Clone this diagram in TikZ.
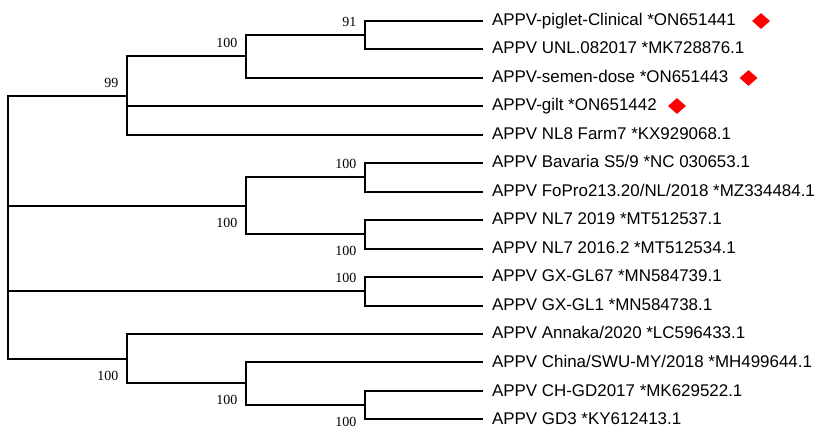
\documentclass[tikz,border=0pt]{standalone}
\usepackage{fontspec}
\setmainfont{Liberation Sans}
\newfontfamily\bootfont{Liberation Serif}
\usepackage{tikz}
\usetikzlibrary{%
	shapes.geometric,%
	positioning
}
\definecolor{marker-red}{rgb}{1.0, 0.0, 0.0}

\begin{document}
\begin{tikzpicture}[x=1bp,y=-1bp,
		branch/.style={line width=2.8bp},
		taxon/.style={anchor=west,inner xsep=9bp,inner ysep=0pt,outer sep=0pt,
			text height=12.2bp,text depth=2.2bp,font=\fontsize{17}{20}\selectfont},
		bootup/.style={anchor=base east,inner sep=0pt,xshift=-8.5bp,yshift=8bp,
			font=\bootfont\fontsize{14}{15}\selectfont},
		bootdown/.style={anchor=base east,inner sep=0pt,xshift=-8.5bp,yshift=-21.3bp,
			font=\bootfont\fontsize{14}{15}\selectfont},
		sample/.style={diamond,fill=marker-red,inner sep=0pt,minimum width=18bp,minimum height=16bp}
	]
	% Frame
	\useasboundingbox (0,0) rectangle (829,437);
	
	% Taxa
	\node[taxon] (t1) at (483,21) {APPV-piglet-Clinical *ON651441};
	\node[taxon] (t2) at (483,49) {APPV UNL.082017 *MK728876.1};
	\node[taxon] (t3) at (483,78) {APPV-semen-dose *ON651443};
	\node[taxon] (t4) at (483,106) {APPV-gilt *ON651442};
	\node[taxon] (t5) at (483,135) {APPV NL8 Farm7 *KX929068.1};
	\node[taxon] (t6) at (483,163) {APPV Bavaria S5/9 *NC 030653.1};
	\node[taxon] (t7) at (483,192) {APPV FoPro213.20/NL/2018 *MZ334484.1};
	\node[taxon] (t8) at (483,220) {APPV NL7 2019 *MT512537.1};
	\node[taxon] (t9) at (483,249) {APPV NL7 2016.2 *MT512534.1};
	\node[taxon] (t10) at (483,277) {APPV GX-GL67 *MN584739.1};
	\node[taxon] (t11) at (483,306) {APPV GX-GL1 *MN584738.1};
	\node[taxon] (t12) at (483,334) {APPV Annaka/2020 *LC596433.1};
	\node[taxon] (t13) at (483,362) {APPV China/SWU-MY/2018 *MH499644.1};
	\node[taxon] (t14) at (483,391) {APPV CH-GD2017 *MK629522.1};
	\node[taxon] (t15) at (483,419) {APPV GD3 *KY612413.1};
	
	% Samples of this study
	\node[sample, right=7bp of t1] (d1) {};
	\node[sample, right=2bp of t3] (d3) {};
	\node[sample, right=2bp of t4] (d4) {};
	
	% Internal nodes
	\coordinate (cA1) at (365,35);
	\coordinate (cA2) at (246,56);
	\coordinate (cA) at (127,96);
	\coordinate (cB1) at (365,177);
	\coordinate (cB2) at (365,234);
	\coordinate (cB) at (246,206);
	\coordinate (cC) at (365,291);
	\coordinate (cD2) at (365,405);
	\coordinate (cD1) at (246,383);
	\coordinate (cD) at (127,359);
	\coordinate (root) at (8,227);
	
	% Branches
	\draw[branch] (cA1) |- (t1.west) (cA1) |- (t2.west);
	\draw[branch] (cA2) |- (cA1) (cA2) |- (t3.west);
	\draw[branch] (cA) |- (cA2) (cA) |- (t4.west) (cA) |- (t5.west);
	\draw[branch] (cB1) |- (t6.west) (cB1) |- (t7.west);
	\draw[branch] (cB2) |- (t8.west) (cB2) |- (t9.west);
	\draw[branch] (cB) |- (cB1) (cB) |- (cB2);
	\draw[branch] (cC) |- (t10.west) (cC) |- (t11.west);
	\draw[branch] (cD2) |- (t14.west) (cD2) |- (t15.west);
	\draw[branch] (cD1) |- (t13.west) (cD1) |- (cD2);
	\draw[branch] (cD) |- (t12.west) (cD) |- (cD1);
	\draw[branch] (root) |- (cA) (root) |- (cB) (root) |- (cC) (root) |- (cD);
	
	% Bootstrap values
	\node[bootup] (b1) at (cA1) {91};
	\node[bootup] (b2) at (cA2) {100};
	\node[bootup] (b3) at (cA) {99};
	\node[bootup] (b4) at (cB1) {100};
	\node[bootdown] (b5) at (cB) {100};
	\node[bootdown] (b6) at (cB2) {100};
	\node[bootup] (b7) at (cC) {100};
	\node[bootdown] (b8) at (cD) {100};
	\node[bootdown] (b9) at (cD1) {100};
	\node[bootdown] (b10) at (cD2) {100};
\end{tikzpicture}
\end{document}
